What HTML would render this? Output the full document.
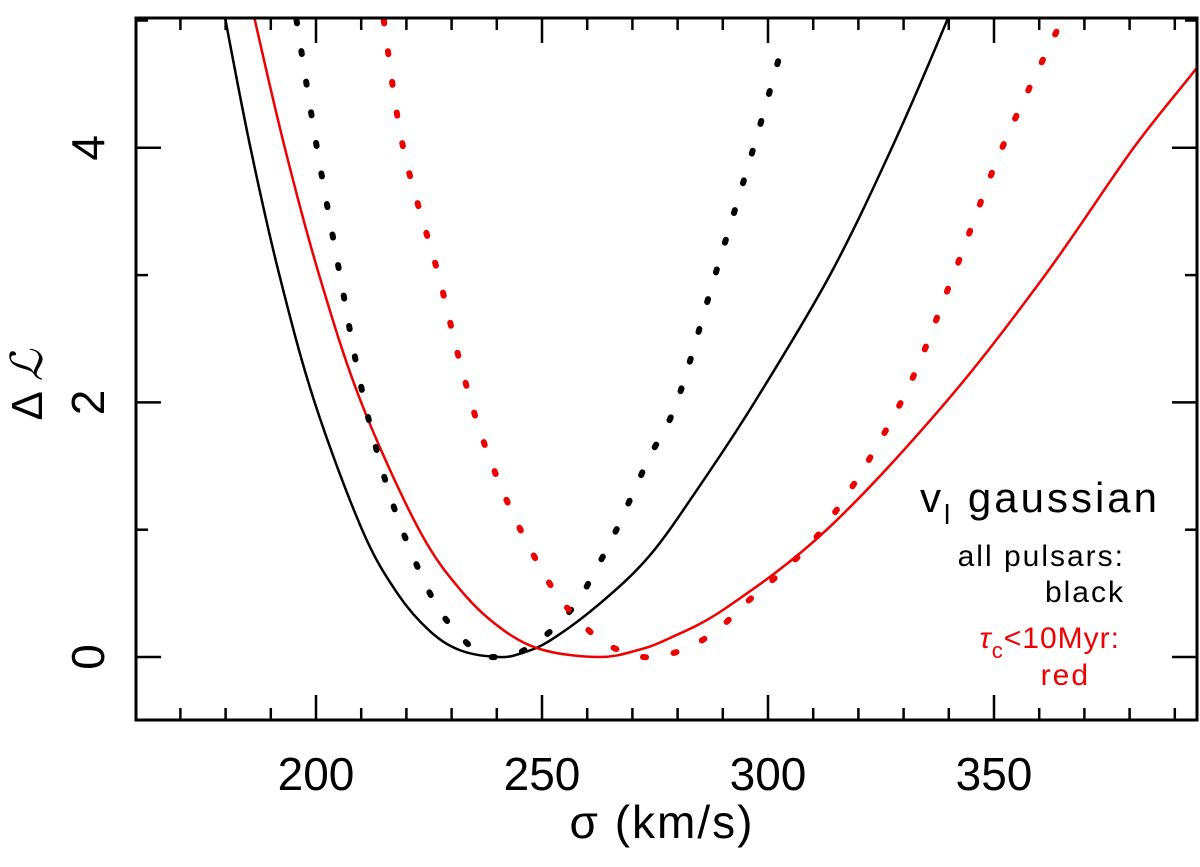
<!DOCTYPE html>
<html><head><meta charset="utf-8"><style>
body{margin:0;background:#fff;}
svg text{font-family:"Liberation Sans","DejaVu Sans",sans-serif;}
</style></head><body>
<svg id="chart" width="1200" height="862" xmlns="http://www.w3.org/2000/svg">
<defs><clipPath id="clip"><rect x="136" y="18" width="1061" height="702"/></clipPath></defs>
<g id="curves" clip-path="url(#clip)"></g>
<rect x="136" y="18" width="1061" height="702" fill="none" stroke="#000" stroke-width="3"/>
<g id="ticks"></g>
<text x="662" y="838" font-size="46" text-anchor="middle" letter-spacing="2">σ (km/s)</text>
<text transform="translate(42,385) rotate(-90)" font-size="44" text-anchor="middle">Δ <tspan font-family="DejaVu Serif, serif" font-style="italic">ℒ</tspan></text>
<g>
<text x="1160" y="512" font-size="42" text-anchor="end" letter-spacing="3">v<tspan font-size="28" dy="12">l</tspan><tspan dy="-12"> gaussian</tspan></text>
<text x="1125" y="566" font-size="30" text-anchor="end" letter-spacing="2">all pulsars:</text>
<text x="1125" y="602" font-size="30" text-anchor="end" letter-spacing="2">black</text>
<text x="1120" y="648" font-size="30" text-anchor="end" fill="#e00" letter-spacing="1"><tspan font-style="italic">τ</tspan><tspan font-size="22" dy="10">c</tspan><tspan dy="-10">&lt;10Myr:</tspan></text>
<text x="1090" y="685" font-size="30" text-anchor="end" fill="#e00" letter-spacing="2">red</text>
</g>
</svg>
<script>
const blackSolidSigma=[177.5,180,185.5,191.9,199.7,210.2,218,225.3,232.1,240.5,245.5,251.8,262.8,273.9,285,297,313.7,327.4,339.6,345];
const blackSolidL=[5.5,5,4,3,2,1,0.5,0.2,0.05,0,0.03,0.13,0.42,0.8,1.35,2,3,4,5,5.5];
const redSolidSigma=[183.5,186.5,193.1,200.7,210,222.8,232.6,241.9,250.8,262.8,270.8,278,290.9,313,339.3,361.3,380.9,394.9,400];
const redSolidL=[5.5,5,4,3,2,1,0.5,0.2,0.05,0,0.05,0.144,0.39,1,2,3,4,4.63,4.9];
const blackDotSigma=[195.7,200.2,205.3,209,213,218.2,225.2,230,236,240,244.8,251.8,257.7,262.1,266.2,273.5,279.8,288.3,296.8,303.5];
const blackDotL=[5,4,3,2.29,1.68,1.08,0.5,0.24,0.03,0,0.03,0.2,0.43,0.7,0.98,1.55,2,3,4,4.84];
const redDotSigma=[215,219.3,227.1,231.9,237,243.6,251.8,257.3,263.9,272.3,280.7,288.3,295,312,329.4,341,351.8,365];
const redDotL=[5,4,3,2.31,1.7,1.12,0.57,0.32,0.11,0,0.05,0.2,0.42,1,2,3,4,5];
const xTicks=[200,250,300,350];
const yTicks=[0,2,4];
const xs=v=>316+(v-200)*4.52;
const ys=v=>657-v*127.3;
const NS="http://www.w3.org/2000/svg";
function pathFrom(sx,sy){
  const p=sx.map((s,i)=>[xs(s),ys(sy[i])]);
  let d=`M${p[0][0]},${p[0][1]}`;
  for(let i=0;i<p.length-1;i++){
    const p0=p[Math.max(0,i-1)],p1=p[i],p2=p[i+1],p3=p[Math.min(p.length-1,i+2)];
    const c1=[p1[0]+(p2[0]-p0[0])/6,p1[1]+(p2[1]-p0[1])/6];
    const c2=[p2[0]-(p3[0]-p1[0])/6,p2[1]-(p3[1]-p1[1])/6];
    d+=` C${c1[0]},${c1[1]} ${c2[0]},${c2[1]} ${p2[0]},${p2[1]}`;
  }
  return d;
}
const g=document.getElementById('curves');
function addCurve(sx,sy,color,dotted,name){
  const e=document.createElementNS(NS,'path');
  e.setAttribute('d',pathFrom(sx,sy));
  e.setAttribute('fill','none');
  e.setAttribute('stroke',color);
  if(dotted){e.setAttribute('stroke-width','6');e.setAttribute('stroke-dasharray','3 28');e.setAttribute('stroke-linecap','round');}
  else e.setAttribute('stroke-width','2.5');
  
  
  g.appendChild(e);
}
addCurve(blackSolidSigma,blackSolidL,'#000',false,'black-solid-curve');
addCurve(redSolidSigma,redSolidL,'#e00',false,'red-solid-curve');
addCurve(blackDotSigma,blackDotL,'#000',true,'black-dotted-curve');
addCurve(redDotSigma,redDotL,'#e00',true,'red-dotted-curve');
const t=document.getElementById('ticks');
function line(x1,y1,x2,y2){const l=document.createElementNS(NS,'line');l.setAttribute('x1',x1);l.setAttribute('y1',y1);l.setAttribute('x2',x2);l.setAttribute('y2',y2);l.setAttribute('stroke','#000');l.setAttribute('stroke-width','2.5');


t.appendChild(l);}
for(let v=170;v<=390;v+=10){const x=xs(v);const L=(v%50===0)?25:12;line(x,720,x,720-L);line(x,18,x,18+L);}
for(let v=0;v<=5;v++){const y=ys(v);const L=(v%2===0)?25:12;line(136,y,136+L,y);line(1197,y,1197-L,y);}
xTicks.forEach(v=>{const e=document.createElementNS(NS,'text');e.setAttribute('x',xs(v));e.setAttribute('y',790);e.setAttribute('font-size','46');e.setAttribute('text-anchor','middle');e.textContent=v;


t.appendChild(e);});
yTicks.forEach(v=>{const e=document.createElementNS(NS,'text');e.setAttribute('transform',`translate(104,${ys(v)}) rotate(-90)`);e.setAttribute('font-size','46');e.setAttribute('text-anchor','middle');e.textContent=v;


t.appendChild(e);});
</script>
</body></html>
